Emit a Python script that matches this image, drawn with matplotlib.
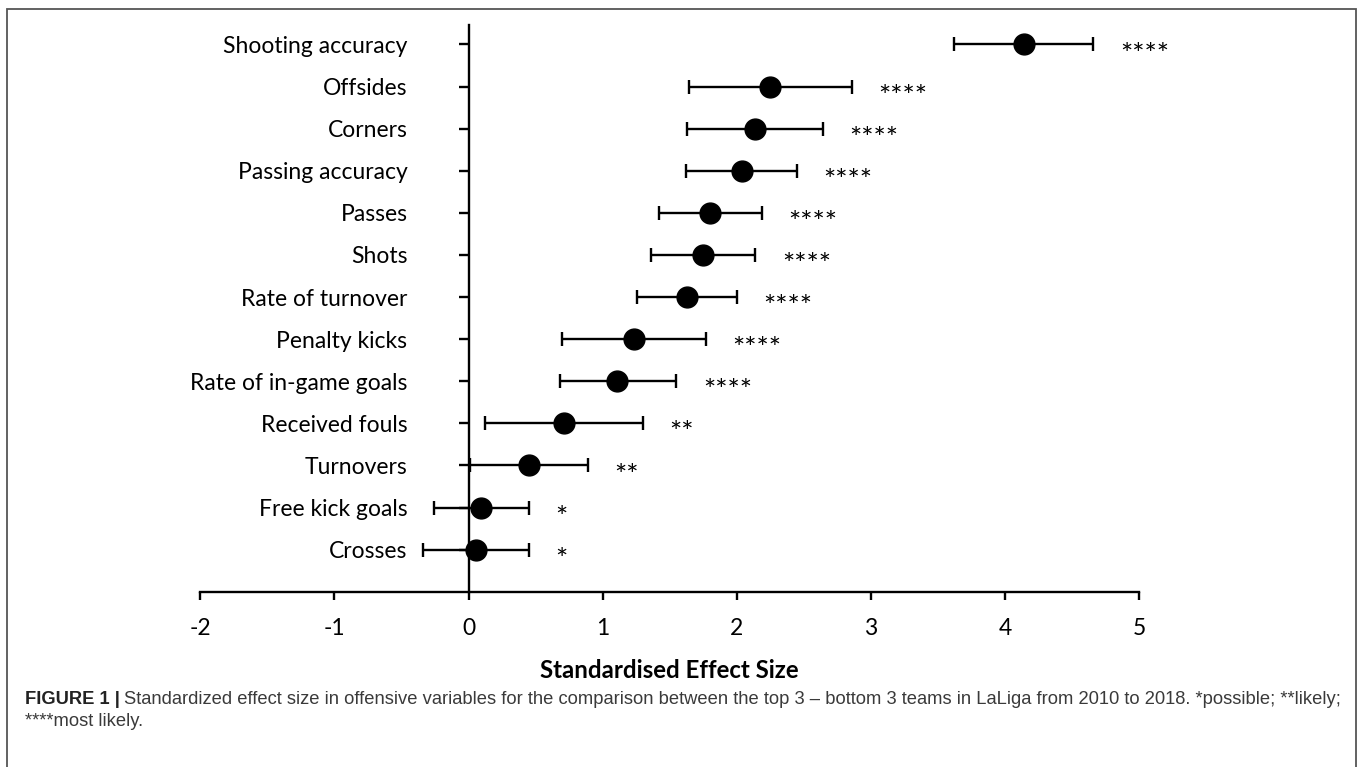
import numpy as np
import matplotlib.pyplot as plt
from matplotlib.patches import Rectangle

# variables, top to bottom as in the figure
variables = ['Shooting accuracy', 'Offsides', 'Corners', 'Passing accuracy', 'Passes',
             'Shots', 'Rate of turnover', 'Penalty kicks', 'Rate of in-game goals',
             'Received fouls', 'Turnovers', 'Free kick goals', 'Crosses']
effect = [4.14, 2.25, 2.14, 2.04, 1.80, 1.75, 1.63, 1.235, 1.11, 0.71, 0.45, 0.09, 0.055]
ci_low = [3.62, 1.645, 1.63, 1.62, 1.42, 1.36, 1.26, 0.70, 0.68, 0.12, 0.01, -0.26, -0.34]
ci_high = [4.66, 2.86, 2.64, 2.45, 2.19, 2.14, 2.00, 1.77, 1.55, 1.30, 0.89, 0.45, 0.45]
stars = ['****'] * 9 + ['**', '**', '*', '*']
xticks = [-2, -1, 0, 1, 2, 3, 4, 5]

lab_font = 'Lato'

fig = plt.figure(figsize=(13.6, 7.67), dpi=100)
ax = fig.add_axes([0.1473, 0.2285, 0.6902, 0.7383])

y = np.arange(len(variables), 0, -1)
eff = np.array(effect)
lo = eff - np.array(ci_low)
hi = np.array(ci_high) - eff

ax.errorbar(eff, y, xerr=[lo, hi], fmt='o', color='black', ms=15,
            elinewidth=1.7, capsize=5, capthick=1.7, zorder=3)

# significance stars right of each interval
for yy, h, s in zip(y, ci_high, stars):
    ax.annotate(s, xy=(h, yy), xytext=(19, -8), textcoords='offset points',
                ha='left', va='center', fontsize=21, family=lab_font)

ax.set_xlim(-2, 5)
ax.set_ylim(0, 13.45)
ax.spines['left'].set_position(('data', 0))
ax.spines['top'].set_visible(False)
ax.spines['right'].set_visible(False)
for sp in ['left', 'bottom']:
    ax.spines[sp].set_linewidth(1.7)

ax.set_yticks(y)
ax.set_yticklabels(variables, family=lab_font, fontsize=16.5)
ax.tick_params(axis='y', direction='out', length=7, width=1.7, pad=37)
ax.set_xticks(xticks)
ax.set_xticklabels([str(t) for t in xticks], family=lab_font, fontsize=16.5)
ax.tick_params(axis='x', direction='out', length=6, width=1.7, pad=13)
ax.set_xlabel('Standardised Effect Size', family=lab_font, fontsize=17.3,
              fontweight='bold', labelpad=14)

# frame round the whole figure
fig.patches.append(Rectangle((7 / 1360, -0.01), 1349 / 1360, 1 - 9 / 767 + 0.01,
                             transform=fig.transFigure, fill=False,
                             edgecolor='#555555', lw=1.3))

# caption
cap_font = 'Liberation Sans'
cap_size = 13.2
t1 = fig.text(25 / 1360, 1 - 699 / 767, 'FIGURE 1 |', fontsize=cap_size, family=cap_font,
              fontweight='bold', color='#222222', va='center')
fig.canvas.draw()
bb = t1.get_window_extent()
fig.text((bb.x1 + 4) / 1360, 1 - 699 / 767,
         'Standardized effect size in offensive variables for the comparison between the top 3 \u2013 '
         'bottom 3 teams in LaLiga from 2010 to 2018. *possible; **likely;',
         fontsize=cap_size, family=cap_font, color='#3a3a3a', va='center')
fig.text(25 / 1360, 1 - 721 / 767, '****most likely.', fontsize=cap_size, family=cap_font,
         color='#3a3a3a', va='center')

fig.savefig('out.png', dpi=100)
